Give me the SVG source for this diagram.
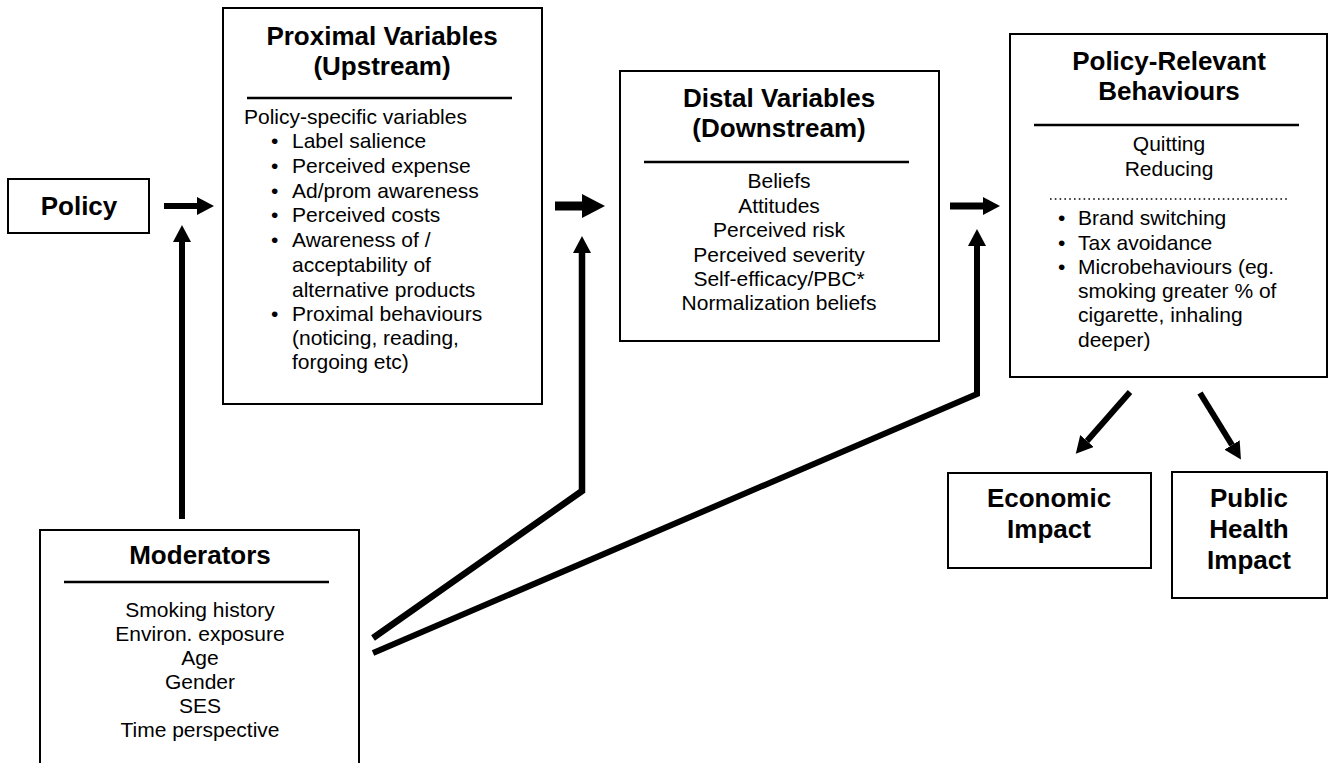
<svg xmlns="http://www.w3.org/2000/svg" width="1329" height="763" viewBox="0 0 1329 763">
<style>
.box{fill:#fff;stroke:#000;stroke-width:2}
.sep{stroke:#000;stroke-width:2.5}
.dot{stroke:#000;stroke-width:1.6;stroke-dasharray:1.6 3.2}
.t{font-family:"Liberation Sans",Arial,sans-serif;font-weight:bold;font-size:26px;fill:#000;text-anchor:middle}
.b{font-family:"Liberation Sans",Arial,sans-serif;font-size:21px;fill:#000}
.c{text-anchor:middle}
.ln{fill:none;stroke:#000;stroke-width:6;stroke-linejoin:miter}
</style>
<defs>
<marker id="ah" markerUnits="userSpaceOnUse" markerWidth="18" markerHeight="18" refX="0" refY="9" orient="auto" viewBox="0 0 18 18"><path d="M0,0 L17,9 L0,18 z" fill="#000"/></marker>
<marker id="ahL" markerUnits="userSpaceOnUse" markerWidth="24" markerHeight="24" refX="0" refY="12" orient="auto" viewBox="0 0 24 24"><path d="M0,0 L23,12 L0,24 z" fill="#000"/></marker>
</defs>
<rect width="1329" height="763" fill="#fff"/>

<g id="connectors">
<line class="ln" x1="164" y1="206" x2="197" y2="206" marker-end="url(#ah)"/>
<line class="ln" x1="182" y1="519" x2="182" y2="242" marker-end="url(#ah)"/>
<line class="ln" style="stroke-width:9" x1="555" y1="206" x2="582" y2="206" marker-end="url(#ahL)"/>
<polyline class="ln" style="stroke-width:6.5" points="373,638 582,491 582,253" marker-end="url(#ah)"/>
<line class="ln" style="stroke-width:7" x1="950" y1="206" x2="983" y2="206" marker-end="url(#ah)"/>
<polyline class="ln" points="373,653 977,394 977,246" marker-end="url(#ah)"/>
<line class="ln" x1="1130" y1="392" x2="1087" y2="441" marker-end="url(#ah)"/>
<line class="ln" x1="1200" y1="393" x2="1232" y2="445" marker-end="url(#ah)"/>
</g>

<g id="policy">
<rect class="box" x="8" y="179" width="141" height="54"/>
<text class="t" x="79" y="215">Policy</text>
</g>

<g id="proximal">
<rect class="box" x="223" y="8" width="319" height="396"/>
<text class="t" x="382" y="45">Proximal Variables</text>
<text class="t" x="382" y="75">(Upstream)</text>
<line class="sep" x1="247" y1="98" x2="512" y2="98"/>
<text class="b" x="244" y="124">Policy-specific variables</text>
<g class="b">
<text x="271" y="148">•</text><text x="292" y="148">Label salience</text>
<text x="271" y="173">•</text><text x="292" y="173">Perceived expense</text>
<text x="271" y="198">•</text><text x="292" y="198">Ad/prom awareness</text>
<text x="271" y="222">•</text><text x="292" y="222">Perceived costs</text>
<text x="271" y="247">•</text><text x="292" y="247">Awareness of /</text>
<text x="292" y="272">acceptability of</text>
<text x="292" y="297">alternative products</text>
<text x="271" y="321">•</text><text x="292" y="321">Proximal behaviours</text>
<text x="292" y="345">(noticing, reading,</text>
<text x="292" y="369">forgoing etc)</text>
</g>
</g>

<g id="distal">
<rect class="box" x="620" y="71" width="319" height="270"/>
<text class="t" x="779" y="107">Distal Variables</text>
<text class="t" x="779" y="137">(Downstream)</text>
<line class="sep" x1="644" y1="162" x2="909" y2="162"/>
<g class="b c">
<text x="779" y="188">Beliefs</text>
<text x="779" y="213">Attitudes</text>
<text x="779" y="237">Perceived risk</text>
<text x="779" y="262">Perceived severity</text>
<text x="779" y="286">Self-efficacy/PBC*</text>
<text x="779" y="310">Normalization beliefs</text>
</g>
</g>

<g id="behaviours">
<rect class="box" x="1010" y="34" width="317" height="343"/>
<text class="t" x="1169" y="70">Policy-Relevant</text>
<text class="t" x="1169" y="100">Behaviours</text>
<line class="sep" x1="1034" y1="125" x2="1299" y2="125"/>
<g class="b c">
<text x="1169" y="151">Quitting</text>
<text x="1169" y="176">Reducing</text>
</g>
<line class="dot" x1="1050" y1="199" x2="1288" y2="199"/>
<g class="b">
<text x="1058" y="225">•</text><text x="1078" y="225">Brand switching</text>
<text x="1058" y="250">•</text><text x="1078" y="250">Tax avoidance</text>
<text x="1058" y="274">•</text><text x="1078" y="274">Microbehaviours (eg.</text>
<text x="1078" y="298">smoking greater % of</text>
<text x="1078" y="322">cigarette, inhaling</text>
<text x="1078" y="347">deeper)</text>
</g>
</g>

<g id="economic">
<rect class="box" x="948" y="473" width="203" height="95"/>
<text class="t" x="1049" y="507">Economic</text>
<text class="t" x="1049" y="538">Impact</text>
</g>

<g id="publichealth">
<rect class="box" x="1172" y="472" width="155" height="126"/>
<text class="t" x="1249" y="507">Public</text>
<text class="t" x="1249" y="538">Health</text>
<text class="t" x="1249" y="569">Impact</text>
</g>

<g id="moderators">
<rect class="box" x="40" y="530" width="319" height="245"/>
<text class="t" x="200" y="564">Moderators</text>
<line class="sep" x1="64" y1="582" x2="329" y2="582"/>
<g class="b c">
<text x="200" y="617">Smoking history</text>
<text x="200" y="641">Environ. exposure</text>
<text x="200" y="665">Age</text>
<text x="200" y="689">Gender</text>
<text x="200" y="713">SES</text>
<text x="200" y="737">Time perspective</text>
</g>
</g>
</svg>
